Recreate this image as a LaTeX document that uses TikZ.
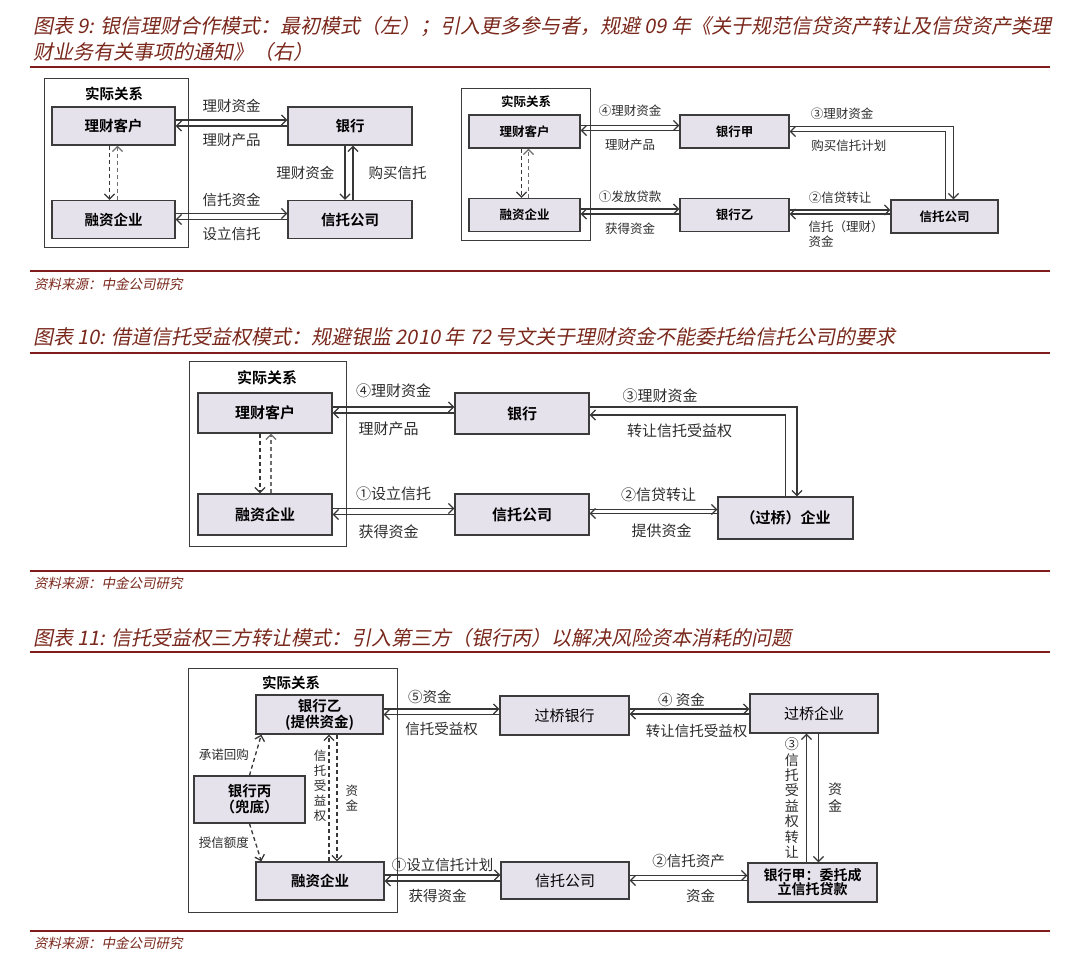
\documentclass[tikz,border=0pt]{standalone}
\usepackage{fontspec}
\setmainfont{Noto Sans CJK SC}[BoldFont={Noto Sans CJK SC Bold}]
\newfontfamily\titlefont{Noto Sans CJK SC}[FakeSlant=0.2]
\usepackage{tikz}
\usepackage{xcolor}
\usetikzlibrary{arrows.meta}
\definecolor{rulered}{RGB}{128,28,28}
\definecolor{titlebrown}{RGB}{122,40,28}
\definecolor{boxfill}{RGB}{229,226,236}
\definecolor{boxline}{RGB}{60,60,60}
\definecolor{linegray}{RGB}{55,55,55}
\definecolor{lightline}{RGB}{110,110,110}
\definecolor{labelgray}{RGB}{45,45,45}

\newcommand{\boxfont}{\fontsize{14.5}{16}\selectfont\bfseries}
\newcommand{\bigboxfont}{\fontsize{15}{17}\selectfont\bfseries}
\newcommand{\smallboxfont}{\fontsize{12.5}{15}\selectfont\bfseries}
\newcommand{\lblfont}{\fontsize{14.5}{16}\selectfont}
\newcommand{\biglblfont}{\fontsize{15}{17}\selectfont}
\newcommand{\smalllblfont}{\fontsize{12.5}{15}\selectfont}
\newcommand{\headfont}{\titlefont\fontsize{20}{25}\selectfont}
\newcommand{\srcfont}{\titlefont\fontsize{13.5}{15}\selectfont}

\begin{document}
\begin{tikzpicture}[x=1pt, y=-1pt,
    entity/.style={rectangle, draw=boxline, line width=1.3pt, fill=boxfill, font=\boxfont, align=center, inner sep=1pt},
    relbox/.style={rectangle, draw=boxline, line width=1pt},
    note/.style={font=\lblfont, text=labelgray, inner sep=1pt},
    flow/.style={-{Straight Barb[length=5pt,width=10pt]}, line width=1.3pt, draw=linegray},
    dflow/.style={flow, dash pattern=on 4pt off 3pt},
    rule/.style={draw=rulered, line width=1.6pt},
    head/.style={anchor=west, font=\headfont, text=titlebrown, inner sep=0pt},
    source/.style={anchor=west, font=\srcfont, text=titlebrown, inner sep=0pt}
]
\fill[white] (0,0) rectangle (1080,968);
\useasboundingbox (0,0) rectangle (1080,968);

% Headings and rules
\node[head] (title9) at (33,27) {图表 9: 银信理财合作模式：最初模式（左）；引入更多参与者，规避 09 年《关于规范信贷资产转让及信贷资产类理};
\node[head] (title9b) at (33,52) {财业务有关事项的通知》（右）};
\node[head] (title10) at (33,337) {图表 10: 借道信托受益权模式：规避银监 2010 年 72 号文关于理财资金不能委托给信托公司的要求};
\node[head] (title11) at (33,638) {图表 11: 信托受益权三方转让模式：引入第三方（银行丙）以解决风险资本消耗的问题};
\draw[rule] (30,67) -- (1050,67);
\draw[rule] (30,271) -- (1050,271);
\draw[rule] (30,353) -- (1050,353);
\draw[rule] (30,571) -- (1050,571);
\draw[rule] (30,652) -- (1050,652);
\draw[rule] (30,931) -- (1050,931);
\node[source] (src9) at (34,284) {资料来源：中金公司研究};
\node[source] (src10) at (34,583) {资料来源：中金公司研究};
\node[source] (src11) at (34,943) {资料来源：中金公司研究};

% Figure 9, left
\node[relbox, minimum width=144pt, minimum height=169pt] (rel9a) at (116,163.5) {};
\node[font=\boxfont] (rel9alabel) at (114,94) {实际关系};
\node[entity, minimum width=123pt, minimum height=38pt] (client9a) at (113.5,126) {理财客户};
\node[entity, minimum width=123pt, minimum height=38pt] (firm9a) at (113.5,219.5) {融资企业};
\node[entity, minimum width=124pt, minimum height=38pt] (bank9a) at (350,126) {银行};
\node[entity, minimum width=124pt, minimum height=38pt] (trust9a) at (350,219.5) {信托公司};

\draw[flow] ([yshift=6pt]client9a.east) -- ([yshift=6pt]client9a.east -| bank9a.west) node[note, midway, above=6pt] {理财资金};
\draw[flow] (client9a.east -| bank9a.west) -- (client9a.east) node[note, midway, below=6pt] {理财产品};
\draw[flow] ([xshift=-5pt]bank9a.south) -- ([xshift=-5pt]bank9a.south |- trust9a.north) node[note, midway, left=9pt] {理财资金};
\draw[flow] ([xshift=3pt]bank9a.south |- trust9a.north) -- ([xshift=3pt]bank9a.south) node[note, midway, right=14pt] {购买信托};
\draw[flow] ([yshift=6pt]firm9a.east) -- ([yshift=6pt]firm9a.east -| trust9a.west) node[note, midway, above=5pt] {信托资金};
\draw[flow] (firm9a.east -| trust9a.west) -- (firm9a.east) node[note, midway, below=6pt] {设立信托};
\draw[dflow] ([xshift=-4pt]client9a.south) -- ([xshift=-4pt]firm9a.north);
\draw[dflow, draw=lightline] ([xshift=4pt]firm9a.north) -- ([xshift=4pt]client9a.south);

% Figure 9, right
\node[relbox, minimum width=129pt, minimum height=152pt] (rel9b) at (525.5,165) {};
\node[font=\smallboxfont] (rel9blabel) at (526,102) {实际关系};
\node[entity, font=\smallboxfont, minimum width=111pt, minimum height=33pt] (client9b) at (524.5,131.5) {理财客户};
\node[entity, font=\smallboxfont, minimum width=111pt, minimum height=33pt] (firm9b) at (524.5,215) {融资企业};
\node[entity, font=\smallboxfont, minimum width=109pt, minimum height=33pt] (bankA9) at (734.5,131.5) {银行甲};
\node[entity, font=\smallboxfont, minimum width=109pt, minimum height=33pt] (bankB9) at (734.5,215) {银行乙};
\node[entity, font=\smallboxfont, minimum width=107pt, minimum height=33pt] (trust9b) at (944.5,216.5) {信托公司};

\draw[flow] ([yshift=6pt]client9b.east) -- ([yshift=6pt]client9b.east -| bankA9.west) node[note, font=\smalllblfont, midway, above=7pt] {④理财资金};
\draw[flow] ([yshift=1pt]client9b.east -| bankA9.west) -- ([yshift=1pt]client9b.east) node[note, font=\smalllblfont, midway, below=7pt] {理财产品};
\draw[flow] ([yshift=6pt]firm9b.east) -- ([yshift=6pt]firm9b.east -| bankB9.west) node[note, font=\smalllblfont, midway, above=5pt] {①发放贷款};
\draw[flow] ([yshift=1pt]firm9b.east -| bankB9.west) -- ([yshift=1pt]firm9b.east) node[note, font=\smalllblfont, midway, below=7pt] {获得资金};
\draw[flow] ([yshift=5pt]bankB9.east) -- ([yshift=5pt]bankB9.east -| trust9b.west) node[note, font=\smalllblfont, midway, above=5pt] {②信贷转让};
\draw[flow] ([yshift=1pt]bankB9.east -| trust9b.west) -- ([yshift=1pt]bankB9.east) node[note, font=\smalllblfont, midway, below=5pt, xshift=6pt, align=left] {信托（理财）\\资金};
\draw[flow] ([yshift=5pt]bankA9.east) -| ([xshift=9pt]trust9b.north) node[note, font=\smalllblfont, pos=0.16, above=5pt] {③理财资金};
\draw[flow] ([xshift=1pt]trust9b.north) |- (bankA9.east) node[note, font=\smalllblfont, pos=0.81, below=7pt] {购买信托计划};
\draw[dflow] ([xshift=-3pt]client9b.south) -- ([xshift=-3pt]firm9b.north);
\draw[dflow, draw=lightline] ([xshift=4pt]firm9b.north) -- ([xshift=4pt]client9b.south);

% Figure 10
\node[relbox, minimum width=157pt, minimum height=184pt] (rel10) at (267.5,454) {};
\node[font=\bigboxfont] (rel10label) at (267,378) {实际关系};
\node[entity, font=\bigboxfont, minimum width=134pt, minimum height=40pt] (client10) at (265,413) {理财客户};
\node[entity, font=\bigboxfont, minimum width=134pt, minimum height=41pt] (firm10) at (265,514.5) {融资企业};
\node[entity, font=\bigboxfont, minimum width=134pt, minimum height=41pt] (bank10) at (522,413.5) {银行};
\node[entity, font=\bigboxfont, minimum width=134pt, minimum height=41pt] (trust10) at (522,514.5) {信托公司};
\node[entity, font=\bigboxfont, minimum width=135pt, minimum height=42pt] (bridge10) at (785.5,518) {（过桥）企业};

\draw[flow] ([yshift=6pt]client10.east) -- ([yshift=6pt]client10.east -| bank10.west) node[note, font=\biglblfont, midway, above=8pt] {④理财资金};
\draw[flow] (client10.east -| bank10.west) -- (client10.east) node[note, font=\biglblfont, midway, below=7pt, xshift=-5pt] {理财产品};
\draw[flow] ([yshift=6pt]firm10.east) -- ([yshift=6pt]firm10.east -| trust10.west) node[note, font=\biglblfont, midway, above=6pt] {①设立信托};
\draw[flow] (firm10.east -| trust10.west) -- (firm10.east) node[note, font=\biglblfont, midway, below=9pt, xshift=-5pt] {获得资金};
\draw[flow] ([yshift=5pt]trust10.east) -- ([yshift=5pt]trust10.east -| bridge10.west) node[note, font=\biglblfont, midway, above=6pt, xshift=5pt] {②信贷转让};
\draw[flow] ([yshift=1pt]trust10.east -| bridge10.west) -- ([yshift=1pt]trust10.east) node[note, font=\biglblfont, midway, below=9pt, xshift=8pt] {提供资金};
\draw[flow] ([yshift=6.5pt]bank10.east) -| ([xshift=11.5pt]bridge10.north) node[note, font=\biglblfont, pos=0.17, above=3pt] {③理财资金};
\draw[flow] (bridge10.north) |- ([yshift=-1.5pt]bank10.east) node[note, font=\biglblfont, pos=0.77, below=7pt] {转让信托受益权};
\draw[dflow] ([xshift=-5pt]client10.south) -- ([xshift=-5pt]firm10.north);
\draw[dflow, draw=lightline] ([xshift=6pt]firm10.north) -- ([xshift=6pt]client10.south);

% Figure 11
\node[relbox, minimum width=209pt, minimum height=244pt] (rel11) at (292.5,790) {};
\node[font=\boxfont] (rel11label) at (291,683) {实际关系};
\node[entity, minimum width=127pt, minimum height=39pt] (bankB11) at (319.5,714.5) {银行乙\\(提供资金)};
\node[entity, minimum width=111pt, minimum height=47pt] (bankC11) at (249.5,799.5) {银行丙\\（兜底）};
\node[entity, minimum width=128pt, minimum height=38pt] (firm11) at (320,881) {融资企业};
\node[entity, font=\biglblfont, minimum width=129pt, minimum height=39pt] (bridgebank11) at (564.5,715.5) {过桥银行};
\node[entity, font=\biglblfont, minimum width=128pt, minimum height=39pt] (bridgefirm11) at (814,713.5) {过桥企业};
\node[entity, font=\biglblfont, minimum width=128pt, minimum height=37pt] (trust11) at (565,880.5) {信托公司};
\node[entity, font=\fontsize{14}{14}\selectfont\bfseries, minimum width=129pt, minimum height=39pt] (bankA11) at (812.5,882.5) {银行甲：委托成\\立信托贷款};

\draw[dflow] (bankC11.north) -- ([xshift=6pt]bankB11.south west) node[note, font=\smalllblfont, midway, left=5pt] {承诺回购};
\draw[dflow] (bankC11.south) -- ([xshift=6pt]firm11.north west) node[note, font=\smalllblfont, midway, left=5pt] {授信额度};
\draw[dflow] ([xshift=9pt]firm11.north) -- ([xshift=9pt]firm11.north |- bankB11.south) node[note, font=\smalllblfont, pos=0.6, left=1pt, align=center] {信\\托\\受\\益\\权};
\draw[dflow] ([xshift=17pt]firm11.north |- bankB11.south) -- ([xshift=17pt]firm11.north) node[note, font=\smalllblfont, midway, right=7pt, align=center] {资\\金};

\draw[flow] ([yshift=5.5pt]bankB11.east) -- ([yshift=5.5pt]bankB11.east -| bridgebank11.west) node[note, pos=0.4, above=4pt] {⑤资金};
\draw[flow] (bankB11.east -| bridgebank11.west) -- (bankB11.east) node[note, midway, below=6pt] {信托受益权};
\draw[flow] ([yshift=6.5pt]bridgebank11.east) -- ([yshift=6.5pt]bridgebank11.east -| bridgefirm11.west) node[note, midway, above=1pt, xshift=-8pt] {④ 资金};
\draw[flow] ([yshift=1.5pt]bridgebank11.east -| bridgefirm11.west) -- ([yshift=1.5pt]bridgebank11.east) node[note, midway, below=9pt, xshift=7pt] {转让信托受益权};
\draw[flow] ([yshift=6pt]firm11.east) -- ([yshift=6pt]firm11.east -| trust11.west) node[note, midway, above=2pt] {①设立信托计划};
\draw[flow] (firm11.east -| trust11.west) -- (firm11.east) node[note, midway, below=7pt, xshift=-5pt] {获得资金};
\draw[flow] ([yshift=5pt]trust11.east) -- ([yshift=5pt]trust11.east -| bankA11.west) node[note, midway, above=6pt] {②信托资产};
\draw[flow] (trust11.east -| bankA11.west) -- (trust11.east) node[note, midway, below=7pt, xshift=12pt] {资金};
\draw[flow] ([xshift=-6pt]bankA11.north) -- ([xshift=-6pt]bankA11.north |- bridgefirm11.south) node[note, midway, left=6pt, align=center, font=\fontsize{14}{15.4}\selectfont] {③\\信\\托\\受\\益\\权\\转\\让};
\draw[flow] ([xshift=6pt]bankA11.north |- bridgefirm11.south) -- ([xshift=6pt]bankA11.north) node[note, midway, right=8pt, align=center, font=\fontsize{14}{17}\selectfont] {资\\金};

\end{tikzpicture}
\end{document}
